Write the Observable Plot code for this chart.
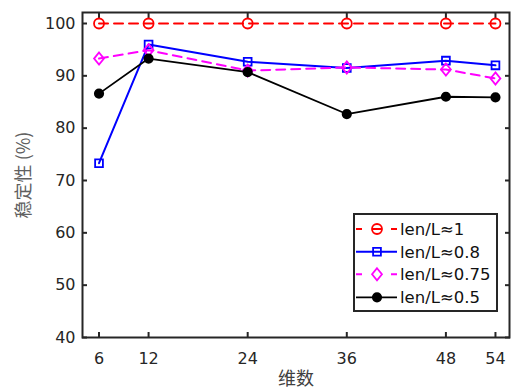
<!DOCTYPE html>
<html>
<head>
<meta charset="utf-8">
<script src="https://cdn.jsdelivr.net/npm/d3@7"></script>
<script src="https://cdn.jsdelivr.net/npm/@observablehq/plot@0.6"></script>
<style>
  html, body { margin: 0; padding: 0; background: #fff; }
  #wrap { position: relative; width: 511px; height: 391px; }
  #legend { position: absolute; box-sizing: border-box; border: 2px solid #262626; background: #fff; }
</style>
</head>
<body>
<div id="wrap"></div>
<script>
// ---- data ----
const dims = [6, 12, 24, 36, 48, 54];
const yTicks = [40, 50, 60, 70, 80, 90, 100];
const seriesNames = ["len/L≈1", "len/L≈0.8", "len/L≈0.75", "len/L≈0.5"];
const valsR = [100, 100, 100, 100, 100, 100];
const valsB = [73.3, 96.0, 92.7, 91.5, 92.9, 92.0];
const valsM = [93.3, 94.9, 91.0, 91.6, 91.2, 89.5];
const valsK = [86.6, 93.3, 90.7, 82.7, 86.0, 85.9];
const xLabel = "维数";
const yLabel = "稳定性 (%)";

// ---- styles ----
const diamondSym = {
  draw(ctx, size) {
    const h = Math.sqrt(size) * 0.68, w = h * 0.82;
    ctx.moveTo(0, -h); ctx.lineTo(w, 0); ctx.lineTo(0, h); ctx.lineTo(-w, 0); ctx.closePath();
  }
};
const styles = [
  {color: "#ff0000", dash: "9,6", legendDash: "6,10,10,9,6", width: 2, symbol: "circle", r: 5, fill: "none"},
  {color: "#0000ff", dash: null, legendDash: null, width: 2, symbol: "square", r: 4.4, fill: "none"},
  {color: "#ff00ff", dash: "9,6", legendDash: "6,29", width: 2, symbol: diamondSym, r: 5, fill: "none"},
  {color: "#000000", dash: null, legendDash: null, width: 1.8, symbol: "circle", r: 4.2, fill: "#000000"}
];
const allVals = [valsR, valsB, valsM, valsK];
const series = allVals.map((vals, i) => dims.map((d, j) => ({x: d, y: vals[j], s: seriesNames[i]})));

const marks = [];
series.forEach((data, i) => {
  const st = styles[i];
  marks.push(Plot.line(data, {x: "x", y: "y", stroke: st.color, strokeWidth: st.width, strokeDasharray: st.dash}));
  marks.push(Plot.dot(data, {x: "x", y: "y", symbol: () => st.symbol, r: st.r, stroke: st.color, strokeWidth: 1.8, fill: st.fill}));
});

const chart = Plot.plot({
  width: 511,
  height: 391,
  marginLeft: 82,
  marginRight: 2,
  marginTop: 12,
  marginBottom: 54,
  style: {fontFamily: "DejaVu Sans", fontSize: "16px", background: "#fff", overflow: "visible"},
  x: {domain: [4, 55.7]},
  y: {domain: [40, 102.1]},
  symbol: {type: "identity"},
  marks: [
    Plot.axisX(dims, {anchor: "bottom", tickSize: -5, tickPadding: 20, color: "#262626", strokeWidth: 2, label: null, tickFormat: d => String(d)}),
    Plot.axisX(dims, {anchor: "top", tickSize: -5, color: "#262626", strokeWidth: 2, label: null, tickFormat: () => ""}),
    Plot.axisY(yTicks, {anchor: "left", tickSize: -5, tickPadding: 12, color: "#262626", strokeWidth: 2, label: null, tickFormat: d => String(d)}),
    Plot.axisY(yTicks, {anchor: "right", tickSize: -5, color: "#262626", strokeWidth: 2, label: null, tickFormat: () => ""}),
    ...marks,
    Plot.frame({stroke: "#262626", strokeWidth: 2}),
    Plot.text([xLabel], {frameAnchor: "bottom", text: d => d, dy: 42, lineAnchor: "middle", fontFamily: "Noto Sans CJK SC", fontSize: 18, fill: "#404040"}),
    Plot.text([yLabel], {frameAnchor: "left", text: d => d, dx: -58, rotate: -90, lineAnchor: "middle", textAnchor: "middle", fontFamily: "Noto Sans CJK SC", fontSize: 18, fill: "#606060"})
  ]
});
const wrap = document.getElementById("wrap");
wrap.appendChild(chart);

// ---- legend overlay ----
const lg = document.createElement("div");
lg.id = "legend";
Object.assign(lg.style, {left: "353px", top: "213px", width: "145px", height: "99px"});
wrap.appendChild(lg);
const lsvg = d3.select(lg).append("svg").attr("width", 141).attr("height", 95).style("display", "block");
const rowY = [14, 36.7, 59.3, 82.3];
seriesNames.forEach((name, i) => {
  const st = styles[i];
  const g = lsvg.append("g").attr("transform", `translate(0,${rowY[i]})`);
  g.append("line").attr("x1", 1).attr("x2", 42).attr("y1", 0).attr("y2", 0)
    .attr("stroke", st.color).attr("stroke-width", st.width)
    .attr("stroke-dasharray", st.legendDash);
  const sym = typeof st.symbol === "string" ? (st.symbol === "square" ? d3.symbolSquare : d3.symbolCircle) : st.symbol;
  g.append("path").attr("transform", "translate(22,0)")
    .attr("d", d3.symbol(sym, Math.PI * st.r * st.r)())
    .attr("stroke", st.color).attr("stroke-width", 1.8).attr("fill", st.fill);
  g.append("text").attr("x", 45).attr("y", 0).attr("dy", "0.36em")
    .attr("font-family", "DejaVu Sans").attr("font-size", 16.5).attr("fill", "#111")
    .text(name);
});
</script>
</body>
</html>
